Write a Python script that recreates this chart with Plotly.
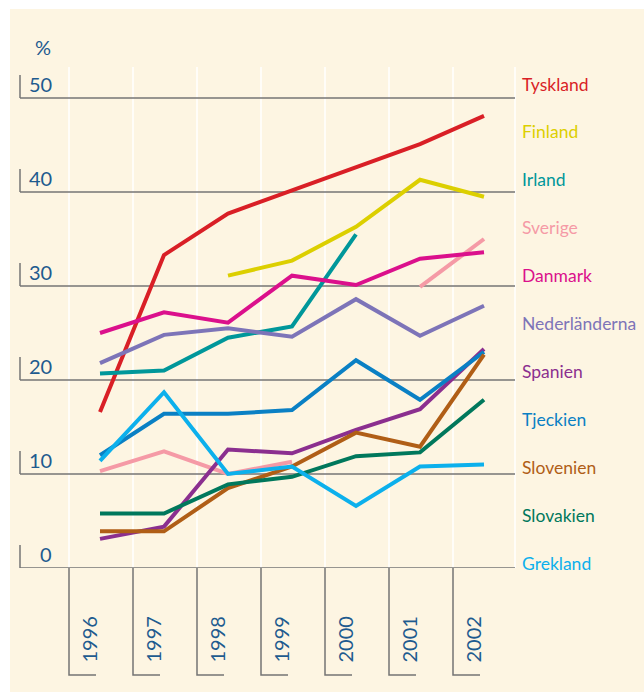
import plotly.graph_objects as go

# ---------------- data ----------------
years = [1996, 1997, 1998, 1999, 2000, 2001, 2002]
countries = ["Tyskland", "Finland", "Irland", "Sverige", "Danmark", "Nederländerna",
             "Spanien", "Tjeckien", "Slovenien", "Slovakien", "Grekland"]
tyskland = [16.6, 33.3, 37.7, 40.2, 42.6, 45.1, 48.1]
finland = [None, None, 31.1, 32.7, 36.3, 41.3, 39.5]
irland = [20.7, 21.0, 24.5, 25.7, 35.5, None, None]
sverige = [10.3, 12.4, 10.0, 11.3, None, 29.9, 35.0]
danmark = [25.0, 27.2, 26.1, 31.1, 30.1, 32.9, 33.6]
nederlanderna = [21.8, 24.8, 25.5, 24.6, 28.6, 24.7, 27.9]
spanien = [3.1, 4.4, 12.6, 12.2, 14.7, 16.9, 23.3]
tjeckien = [12.0, 16.4, 16.4, 16.8, 22.1, 17.9, 23.0]
slovenien = [3.9, 3.9, 8.5, 10.8, 14.4, 12.9, 22.7]
slovakien = [5.8, 5.8, 8.9, 9.7, 11.9, 12.3, 17.9]
grekland = [11.4, 18.7, 10.0, 10.8, 6.6, 10.8, 11.0]
series = [tyskland, finland, irland, sverige, danmark, nederlanderna,
          spanien, tjeckien, slovenien, slovakien, grekland]
colors = ["#d91f26", "#dccf00", "#00979a", "#f59aa6", "#db108c", "#7d74b8",
          "#8b2f8f", "#0a80c4", "#b05e16", "#00785c", "#0cb0ec"]
yticks = [0, 10, 20, 30, 40, 50]
year_labels = [str(y) for y in years]

# ---------------- layout geometry (pixels) ----------------
W, H = 644, 692
PL, PR, PT, PB = 20, 515, 67, 568      # plot area
PX_PER_UNIT = 9.4
X_FIRST_PX, X_STEP_PX = 100, 64

def px2paper_x(px):
    return (px - PL) / (PR - PL)

def px2paper_y(py):
    return (PB - py) / (PB - PT)

x_range = [years[0] + (PL - X_FIRST_PX) / X_STEP_PX, years[0] + (PR - X_FIRST_PX) / X_STEP_PX]
y_range = [0, (PB - PT) / PX_PER_UNIT]

AXIS_TXT = "#1e5b8f"
GRAY = "#747474"
CREAM = "#fdf5e2"
FONT = "Lato"

fig = go.Figure()
for name, vals, col in zip(countries, series, colors):
    fig.add_trace(go.Scatter(x=years, y=vals, mode="lines", name=name,
                             line=dict(color=col, width=4), connectgaps=False,
                             showlegend=False))

shapes = []
# cream background
shapes.append(dict(type="rect", xref="paper", yref="paper",
                   x0=px2paper_x(10), x1=px2paper_x(W + 5), y0=px2paper_y(9), y1=px2paper_y(H + 5),
                   fillcolor=CREAM, line=dict(width=0), layer="below"))
# white column separators
bounds_px = [69 + 64 * k for k in range(7)] + [515]
for bx in bounds_px:
    shapes.append(dict(type="line", xref="paper", yref="paper",
                       x0=px2paper_x(bx), x1=px2paper_x(bx), y0=px2paper_y(67), y1=px2paper_y(568),
                       line=dict(color="white", width=1.5), layer="below"))
# horizontal gridlines + small left ticks
for v in yticks:
    shapes.append(dict(type="line", xref="paper", yref="y", x0=0, x1=1, y0=v, y1=v,
                       line=dict(color=GRAY, width=1.5), layer="below"))
    shapes.append(dict(type="line", xref="paper", yref="y", x0=0, x1=0, y0=v, y1=v + 23 / PX_PER_UNIT,
                       line=dict(color=GRAY, width=1.5), layer="below"))
# x-axis brackets below the plot
for k in range(7):
    bx = 69 + 64 * k
    shapes.append(dict(type="path", xref="paper", yref="paper",
                       path="M {a},{b} L {a},{c} L {d},{c}".format(
                           a=px2paper_x(bx), b=px2paper_y(568), c=px2paper_y(675), d=px2paper_x(bx + 27)),
                       line=dict(color=GRAY, width=1.5), layer="below"))

annotations = []
# y tick labels
for v in yticks:
    annotations.append(dict(text=str(v), xref="paper", yref="y", x=px2paper_x(54), y=v,
                            yshift=14, xanchor="right", yanchor="middle", showarrow=False,
                            font=dict(family=FONT, size=20, color=AXIS_TXT)))
# % unit
annotations.append(dict(text="%", xref="paper", yref="paper", x=px2paper_x(43), y=px2paper_y(47),
                        xanchor="center", yanchor="middle", showarrow=False,
                        font=dict(family=FONT, size=20, color=AXIS_TXT)))
# year labels
for k, lab in enumerate(year_labels):
    annotations.append(dict(text=lab, xref="paper", yref="paper", x=px2paper_x(88.5 + 64 * k),
                            y=px2paper_y(640), textangle=-90, xanchor="center", yanchor="middle",
                            showarrow=False, font=dict(family=FONT, size=20, color=AXIS_TXT)))
# country labels on the right
for i, (name, col) in enumerate(zip(countries, colors)):
    annotations.append(dict(text=name, xref="paper", yref="paper", x=px2paper_x(520),
                            y=px2paper_y(84 + 47.9 * i), xanchor="left", yanchor="middle",
                            showarrow=False, font=dict(family=FONT, size=17.5, color=col)))

fig.update_layout(
    width=W, height=H,
    margin=dict(l=PL, r=W - PR, t=PT, b=H - PB, pad=0),
    paper_bgcolor="white", plot_bgcolor="rgba(0,0,0,0)",
    xaxis=dict(range=x_range, showgrid=False, zeroline=False, showticklabels=False,
               showline=False, ticks="", fixedrange=True),
    yaxis=dict(range=y_range, showgrid=False, zeroline=False, showticklabels=False,
               showline=False, ticks="", fixedrange=True),
    shapes=shapes, annotations=annotations,
)

fig.write_html("out.html", config={"displayModeBar": False},
               post_script="document.body.style.margin='0';document.body.style.overflow='hidden';")
